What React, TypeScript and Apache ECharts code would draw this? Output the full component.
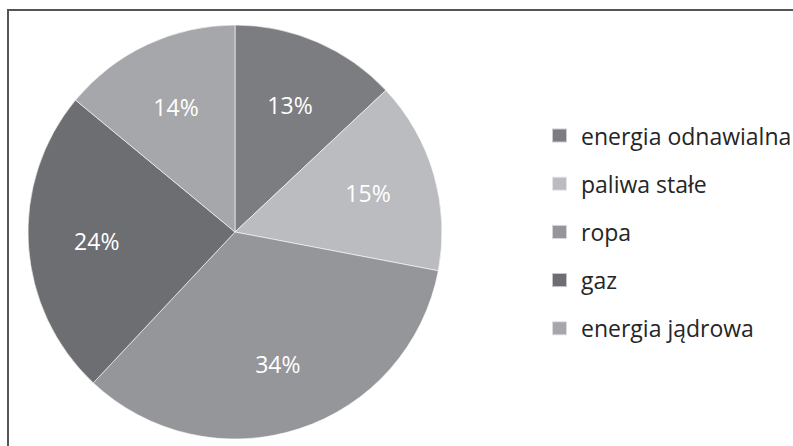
import React, { useEffect, useRef } from "react";
import * as echarts from "echarts";

const categories = ["energia odnawialna", "paliwa stałe", "ropa", "gaz", "energia jądrowa"];
const values = [13, 15, 34, 24, 14];
const colors = ["#7c7d80", "#bbbcbf", "#95969a", "#6d6e71", "#a6a7aa"];

export default function App() {
  const ref = useRef<HTMLDivElement>(null);
  useEffect(() => {
    document.body.style.margin = "0";
    const chart = echarts.init(ref.current!, null, { renderer: "svg" });
    const font = "'Open Sans', 'Noto Sans', sans-serif";
    const data = categories.map((name, i) => ({
      name,
      value: values[i],
      itemStyle: { color: colors[i] },
    }));
    chart.setOption({
      animation: false,
      backgroundColor: "#ffffff",
      legend: {
        orient: "vertical",
        left: 551,
        top: 124,
        padding: 0,
        itemWidth: 15,
        itemHeight: 14,
        itemGap: 25.2,
        icon: "rect",
        selectedMode: false,
        data: categories.map((name, i) => ({ name, itemStyle: { color: colors[i] } })),
        textStyle: {
          fontFamily: font,
          fontSize: 23,
          lineHeight: 22,
          color: "#262626",
          padding: [0, 0, 0, 9],
        },
      },
      graphic: [
        {
          type: "line",
          shape: { x1: 7, y1: 10, x2: 793, y2: 10 },
          style: { stroke: "#555555", lineWidth: 2 },
        },
        {
          type: "line",
          shape: { x1: 8, y1: 10, x2: 8, y2: 446 },
          style: { stroke: "#555555", lineWidth: 2 },
        },
      ],
      series: [
        {
          type: "pie",
          center: [235, 232],
          radius: [0, 207],
          startAngle: 90,
          clockwise: true,
          silent: true,
          label: { show: false },
          labelLine: { show: false },
          itemStyle: { borderColor: "rgba(255,255,255,0.6)", borderWidth: 1 },
          data,
        },
        {
          type: "pie",
          center: [235, 232],
          radius: [64, 207],
          startAngle: 90,
          clockwise: true,
          silent: true,
          itemStyle: { color: "rgba(0,0,0,0)", borderWidth: 0 },
          label: {
            show: true,
            position: "inside",
            formatter: "{c}%",
            color: "#ffffff",
            fontFamily: font,
            fontSize: 23,
          },
          labelLine: { show: false },
          data: categories.map((name, i) => ({ name, value: values[i] })),
        },
      ],
    });
    return () => chart.dispose();
  }, []);
  return <div ref={ref} style={{ width: 793, height: 446 }} />;
}
